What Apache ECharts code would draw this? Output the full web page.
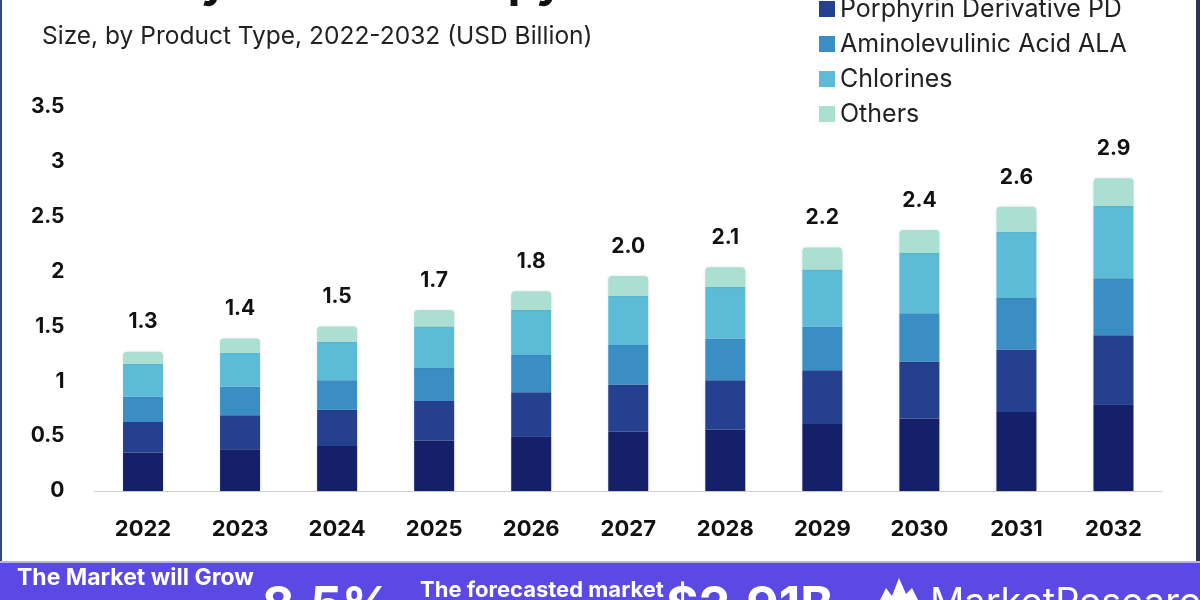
<!DOCTYPE html>
<html>
<head>
<meta charset="utf-8">
<script src="https://cdn.jsdelivr.net/npm/echarts@6/dist/echarts.min.js"></script>
<style>
html,body{margin:0;padding:0;background:#fff;}
#chart{width:1200px;height:600px;}
</style>
</head>
<body>
<div id="chart"></div>
<script>
// ---- data ----
const years = ['2022','2023','2024','2025','2026','2027','2028','2029','2030','2031','2032'];
const seriesNames = ['Porfimer Sodium','Porphyrin Derivative PD','Aminolevulinic Acid ALA','Chlorines','Others'];
const porfimer  = [0.35,0.38,0.41,0.46,0.50,0.54,0.56,0.61,0.66,0.72,0.79];
const porphyrin = [0.28,0.31,0.33,0.36,0.40,0.43,0.45,0.49,0.52,0.57,0.63];
const ala       = [0.23,0.26,0.27,0.30,0.34,0.36,0.38,0.40,0.44,0.47,0.52];
const chlorines = [0.30,0.31,0.35,0.38,0.41,0.45,0.47,0.52,0.55,0.60,0.66];
const others    = [0.11,0.13,0.14,0.15,0.17,0.18,0.18,0.20,0.21,0.23,0.25];
const totalLabels = ['1.3','1.4','1.5','1.7','1.8','2.0','2.1','2.2','2.4','2.6','2.9'];
const yTicks = [0,0.5,1,1.5,2,2.5,3,3.5];

const colors = ['#15206a','#24408f','#3a8ec4','#5cbcd7','#aadfd2'];
const FONT = 'Inter, "Noto Sans", sans-serif';

const chart = echarts.init(document.getElementById('chart'));
const values = [porfimer, porphyrin, ala, chlorines, others];

const series = values.map((arr, i) => {
  const s = {
    name: seriesNames[i],
    type: 'bar',
    stack: 'total',
    barWidth: 40,
    data: arr,
    itemStyle: {
      color: colors[i],
      shadowBlur: 3,
      shadowColor: 'rgba(0,0,0,0.12)'
    }
  };
  if (i === values.length - 1) {
    s.itemStyle.borderRadius = [4,4,0,0];
    s.label = {
      show: true,
      position: 'top',
      distance: 19,
      fontFamily: FONT,
      fontWeight: 'bold',
      fontSize: 21,
      color: '#111',
      formatter: p => totalLabels[p.dataIndex]
    };
  }
  return s;
});

const option = {
  backgroundColor: '#ffffff',
  animation: false,
  legend: {
    data: seriesNames.slice(1),
    orient: 'vertical',
    left: 814,
    top: -9,
    itemWidth: 16,
    itemHeight: 16,
    itemGap: 9,
    icon: 'rect',
    textStyle: { fontFamily: FONT, fontSize: 25, color: '#222', lineHeight: 26, padding: [0,0,0,0] }
  },
  grid: { left: 94.5, right: 38, top: 107, bottom: 109, containLabel: false },
  xAxis: {
    type: 'category',
    data: years,
    axisLine: { lineStyle: { color: '#cfcfcf', width: 1 } },
    axisTick: { show: false },
    axisLabel: { fontFamily: FONT, fontWeight: 'bold', fontSize: 22, color: '#111', margin: 27 }
  },
  yAxis: {
    type: 'value',
    min: 0, max: 3.5, interval: 0.5,
    axisLine: { show: false },
    axisTick: { show: false },
    splitLine: { show: false },
    axisLabel: {
      fontFamily: FONT, fontWeight: 'bold', fontSize: 21, color: '#111', margin: 30,
      formatter: v => (yTicks.indexOf(v) >= 0 ? String(v) : '')
    }
  },
  graphic: {
    elements: [
      { type: 'text', left: 40, top: -40, z: 10,
        style: { text: 'Photodynamic Therapy Market', font: 'bold 46px ' + FONT, fill: '#111' } },
      { type: 'text', left: 42, top: 24, z: 10,
        style: { text: 'Size, by Product Type, 2022-2032 (USD Billion)', font: '24.5px ' + FONT, fill: '#222' } },
      { type: 'rect', left: 0, top: 0, z: 10, shape: { width: 2, height: 600 }, style: { fill: '#2d4a8c' } },
      { type: 'rect', left: 1196, top: 0, z: 10, shape: { width: 4, height: 600 }, style: { fill: '#2b3358' } },
      { type: 'rect', left: 0, top: 561, z: 10, shape: { width: 1200, height: 2 }, style: { fill: '#b8b0f0' } },
      { type: 'rect', left: 0, top: 563, z: 10, shape: { width: 1200, height: 37 }, style: { fill: '#5b49e3' } },
      { type: 'text', left: 17, top: 567, z: 11,
        style: { text: 'The Market will Grow', font: 'bold 23px ' + FONT, fill: '#fff' } },
      { type: 'text', left: 262, top: 582, z: 11,
        style: { text: '8.5%', font: 'bold 50px ' + FONT, fill: '#fff' } },
      { type: 'text', left: 420, top: 579, z: 11,
        style: { text: 'The forecasted market', font: 'bold 22px ' + FONT, fill: '#fff' } },
      { type: 'text', left: 666, top: 582, z: 11,
        style: { text: '$2.91B', font: 'bold 50px ' + FONT, fill: '#fff' } },
      { type: 'polygon', z: 11,
        shape: { points: [[880,600],[886,588],[892,596],[899,578],[906,594],[912,588],[918,600]] },
        style: { fill: '#fff' } },
      { type: 'text', left: 930, top: 585, z: 11,
        style: { text: 'MarketResearch', font: '38px ' + FONT, fill: '#fff' } }
    ]
  },
  series: series
};
chart.setOption(option);
</script>
</body>
</html>
